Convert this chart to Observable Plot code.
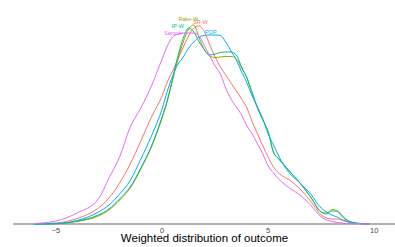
<!DOCTYPE html>
<html><head><meta charset="utf-8">
<script src="https://cdn.jsdelivr.net/npm/d3@7"></script>
<script src="https://cdn.jsdelivr.net/npm/@observablehq/plot@0.6"></script>
<style>html,body{margin:0;padding:0;background:#fff;} svg{display:block}</style>
</head><body><div id="chart"></div>
<script>
// Outcome grid (x) and density curves (arbitrary density units)
const xs = [-6,-5,-4,-3,-2.5,-2,-1.5,-1,-0.5,0,0.25,0.5,0.75,1,1.25,1.5,1.75,2,2.25,2.5,2.75,3,3.25,3.5,3.75,4,4.25,4.5,4.75,5,5.25,5.5,5.75,6,6.5,7,7.5,7.75,8,8.25,8.5,8.75,9,9.5,9.75];
const seriesNames = ["SR-W","Rake-W","IP-W","POP","Sample"];
const seriesColors = ["#F8766D","#A3A500","#00BF7D","#00B0F6","#E76BF3"];
const srW   = [0.2,1,5.5,16,26,41,60,83,107,128,142,153,165,177,188,196,198,192,179,167,157,149,141,133,125,116,102,90,78,67,57,51,47,44,35,23,9,6,5,5,4,2.5,1,0.2,0];
const rakeW = [0,0.3,2.5,8,14,24,36,55,77,106,123,144,165,182,195,199,186,174,168,166.5,167,167.5,167.5,165,156,146,131,116,104,92,72,65,59,53,41,27,12,11,14.5,13,7,3,1.5,0.2,0];
const ipW   = [0,0.4,3,9,15,25,37,56,78,107,124,146,168,186,196,192,182,174,169,170,171.5,172,172,169,157,146,131,116,104,92,72,65,59,53,41,27,12,10,13,13,8,3.5,1.5,0.2,0];
const pop   = [0,0.3,3.5,12,19,30,43.5,65,88,115,133,148,160,167,176,182,187,188.5,189,189,188.5,182,173,164,152,141,128,117,105,90,79,68,58,51,41,30,16,12,9,7,4,2,0.8,0.2,0];
const sample= [0.5,3,11,25,46,67,97,116,138,165,178,187,190,191,191,191,188,178,168,158,150,136,125,117,109,98,90,80,70,58,51,45,40,36,29,19,7,4,2.5,1.5,0.8,0.4,0.2,0,0];
// direct label positions (data units)
const labelX = [1.81, 1.24, 0.745, 2.30, 0.533];
const labelY = [201.5, 204.5, 198, 192, 190.5];
const xTicks = [-5, 0, 5, 10];
const xTitle = "Weighted distribution of outcome";

const seriesValues = [srW, rakeW, ipW, pop, sample];
const rows = seriesNames.flatMap((s, k) => xs.map((x, i) => ({x, y: seriesValues[k][i], series: s})));
const labels = seriesNames.map((s, k) => ({x: labelX[k], y: labelY[k], series: s}));

const chart = Plot.plot({
  width: 395, height: 247,
  marginLeft: 13, marginRight: 0, marginTop: 13.5, marginBottom: 23.5,
  x: {domain: [-7, 11]},
  y: {domain: [0, 210], axis: null},
  color: {domain: seriesNames, range: seriesColors},
  style: {fontFamily: "'Liberation Sans', Arial, sans-serif", background: "#fff"},
  marks: [
    Plot.axisX({ticks: xTicks, tickSize: 0, tickPadding: 3.5, fontSize: 7.5, color: "#4d4d4d", label: null}),
    Plot.ruleY([0], {stroke: "#666", strokeWidth: 1}),
    Plot.line(rows, {x: "x", y: "y", z: "series", stroke: "series", strokeWidth: 1, curve: "monotone-x"}),
    Plot.text(labels, {x: "x", y: "y", text: "series", fill: "series", fontSize: 5.5}),
    Plot.text([xTitle], {frameAnchor: "bottom", dy: 17.5, fontSize: 11.5, fill: "#000"})
  ]
});
document.getElementById("chart").append(chart);
</script>
</body></html>
